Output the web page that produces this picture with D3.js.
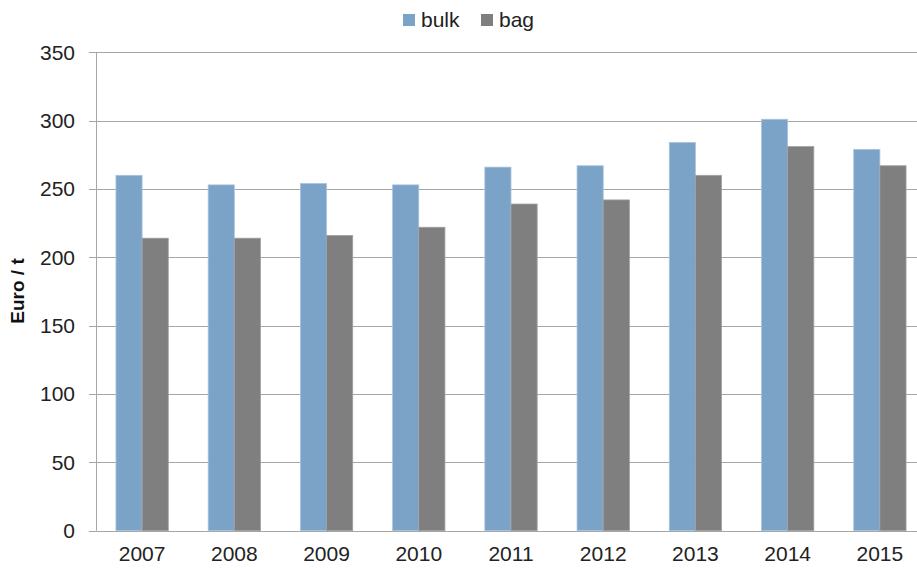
<!DOCTYPE html>
<html><head><meta charset="utf-8">
<script src="https://cdn.jsdelivr.net/npm/d3@7"></script>
<style>body{margin:0;background:#fff;} svg{display:block;}</style>
</head><body>
<svg id="c" width="917" height="570"></svg>
<script>
const years = ["2007","2008","2009","2010","2011","2012","2013","2014","2015"];
const bulk = [260, 253, 254, 253, 266, 267, 284, 301, 279];
const bag  = [214, 214, 216, 222, 239, 242, 260, 281, 267];
const seriesNames = ["bulk","bag"];
const yTicks = [0,50,100,150,200,250,300,350];
const colors = {bulk:"#7ba3c8", bag:"#7f7f7f"};

const svg = d3.select("#c");
const font = "'Liberation Sans', Arial, sans-serif";
const x = d3.scaleBand().domain(years).range([96, 926]).paddingInner(0).paddingOuter(0);
const x1 = d3.scaleBand().domain(seriesNames).range([0, x.bandwidth()]).paddingInner(0).paddingOuter(0.763);
const y = d3.scaleLinear().domain([0,350]).range([530.7, 52.3]);

// gridlines
svg.append("g").selectAll("line").data(yTicks).join("line")
  .attr("x1", 89).attr("x2", 917)
  .attr("y1", d=>Math.round(y(d))+0.5).attr("y2", d=>Math.round(y(d))+0.5)
  .attr("stroke", "#a6a6a6").attr("stroke-width", 1);
// y axis line
svg.append("line").attr("x1",96.5).attr("x2",96.5).attr("y1",y(350)).attr("y2",y(0))
  .attr("stroke","#a6a6a6");

// bars
const data = years.map((yr,i)=>({yr, vals:[{k:"bulk",v:bulk[i]},{k:"bag",v:bag[i]}]}));
const g = svg.append("g").selectAll("g").data(data).join("g")
  .attr("transform", d=>`translate(${x(d.yr)},0)`);
g.selectAll("rect").data(d=>d.vals).join("rect")
  .attr("x", d=>x1(d.k)).attr("width", x1.bandwidth())
  .attr("y", d=>y(d.v)).attr("height", d=>y(0)-y(d.v))
  .attr("fill", d=>colors[d.k])
  .attr("stroke", d=>d.k==="bulk" ? "#a9c4de" : "#a0a0a0").attr("stroke-width",0.8);

// y tick labels
svg.append("g").selectAll("text").data(yTicks).join("text")
  .attr("x", 75).attr("y", d=>y(d)).attr("dy","0.35em")
  .attr("text-anchor","end").attr("font-family",font).attr("font-size",21)
  .attr("fill","#222").text(d=>d);

// x labels
svg.append("g").selectAll("text").data(years).join("text")
  .attr("x", d=>x(d)+x.bandwidth()/2).attr("y", 561)
  .attr("text-anchor","middle").attr("font-family",font).attr("font-size",21)
  .attr("fill","#222").text(d=>d);

// y axis title
svg.append("text").attr("transform","translate(24,291) rotate(-90)")
  .attr("text-anchor","middle").attr("font-family",font).attr("font-size",19)
  .attr("font-weight","bold").attr("fill","#111").text("Euro / t");

// legend
const leg = svg.append("g");
const legX = [403, 481];
seriesNames.forEach((s,i)=>{
  leg.append("rect").attr("x",legX[i]).attr("y",14).attr("width",12).attr("height",12).attr("fill",colors[s]);
  leg.append("text").attr("x",legX[i]+18).attr("y",27).attr("font-family",font).attr("font-size",21)
    .attr("fill","#222").text(s);
});
</script>
</body></html>
